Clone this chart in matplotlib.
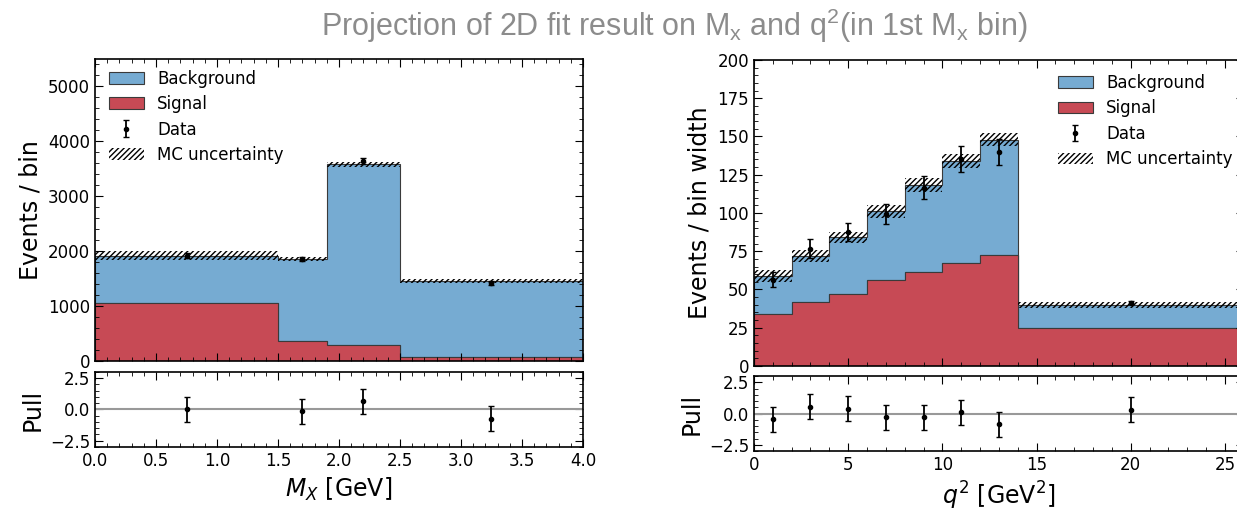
import matplotlib

matplotlib.use("Agg")

import numpy as np
import matplotlib.pyplot as plt
from matplotlib.patches import Patch

# M_X projection
mx_edges = [0.0, 1.5, 1.9, 2.5, 4.0]
mx_centers = [0.75, 1.7, 2.2, 3.25]
mx_signal = [1060, 370, 290, 70]
mx_total = [1915, 1865, 3580, 1460]
mx_mc_unc = [80, 35, 50, 40]
mx_data = [1920, 1855, 3640, 1420]
mx_data_err = [44, 43, 60, 38]
mx_pull = [0.0, -0.15, 0.65, -0.75]

# q2 projection (in 1st M_X bin), events / bin width
q2_edges = [0, 2, 4, 6, 8, 10, 12, 14, 26]
q2_centers = [1, 3, 5, 7, 9, 11, 13, 20]
q2_signal = [34, 42, 47, 56.5, 61.5, 67.5, 72.7, 24.5]
q2_total = [59, 72, 84, 101, 118.5, 134, 148, 39.8]
q2_mc_unc = [4, 4, 3.6, 4, 4.5, 4.3, 4.3, 1.8]
q2_data = [56.5, 76.7, 87.4, 99.5, 116.5, 135, 140, 41.2]
q2_data_err = [5, 6, 6, 6.5, 7.5, 8.5, 8.5, 1.0]
q2_pull = [-0.45, 0.55, 0.4, -0.3, -0.3, 0.1, -0.85, 0.3]

BLUE = "#76abd2"
RED = "#c74a55"
EDGE = "#3a3a3a"

plt.rcParams["hatch.linewidth"] = 1.0


def style_axes(ax):
    ax.minorticks_on()
    ax.tick_params(which="both", direction="in", top=True, right=True, labelsize=12)
    ax.tick_params(which="major", length=6)
    ax.tick_params(which="minor", length=3)
    for s in ax.spines.values():
        s.set_linewidth(1.2)


def draw_stack(ax, edges, signal, total, unc, centers, data, data_err):
    signal = np.array(signal)
    total = np.array(total)
    unc = np.array(unc)
    ax.stairs(total, edges, baseline=signal, fill=True,
              facecolor=BLUE, edgecolor=EDGE, linewidth=0.8)
    ax.stairs(signal, edges, baseline=0, fill=True,
              facecolor=RED, edgecolor=EDGE, linewidth=0.8)
    ax.stairs(total + unc, edges, baseline=total - unc, fill=True,
              facecolor="none", edgecolor="black", linewidth=0, hatch="//////")
    eb = ax.errorbar(centers, data, yerr=data_err, fmt="o", color="black",
                     markersize=3, capsize=2, elinewidth=1.3)
    handles = [Patch(facecolor=BLUE, edgecolor=EDGE, linewidth=0.8),
               Patch(facecolor=RED, edgecolor=EDGE, linewidth=0.8),
               eb,
               Patch(facecolor="none", edgecolor="black", linewidth=0, hatch="//////")]
    return handles


def draw_pull(ax, centers, pull):
    ax.axhline(0, color="#999999", linewidth=1.5)
    ax.errorbar(centers, pull, yerr=1.0, fmt="o", color="black",
                markersize=3, capsize=2, elinewidth=1.3)
    ax.set_ylim(-3, 3)
    ax.set_yticks([-2.5, 0.0, 2.5])
    ax.set_ylabel("Pull", fontsize=17)


labels = ["Background", "Signal", "Data", "MC uncertainty"]

fig = plt.figure(figsize=(12.37, 5.12), dpi=100)

# left: M_X
ax1 = fig.add_axes([0.0768, 0.2949, 0.3945, 0.590])
ax1p = fig.add_axes([0.0768, 0.127, 0.3945, 0.1465])
h = draw_stack(ax1, mx_edges, mx_signal, mx_total, mx_mc_unc,
               mx_centers, mx_data, mx_data_err)
ax1.set_xlim(0, 4)
ax1.set_ylim(0, 5500)
ax1.set_xticklabels([])
ax1.set_ylabel("Events / bin", fontsize=17)
ax1.legend(h, labels, loc="upper left", bbox_to_anchor=(0.028, 0.965),
           frameon=False, fontsize=12, handlelength=2.1, borderpad=0,
           borderaxespad=0, labelspacing=0.45)
style_axes(ax1)
draw_pull(ax1p, mx_centers, mx_pull)
ax1p.set_xlim(0, 4)
ax1p.set_xlabel(r"$M_X$ [GeV]", fontsize=17)
style_axes(ax1p)

# right: q2 (axes run past the right edge, as in the reference)
ax2 = fig.add_axes([0.6095, 0.2852, 0.396, 0.5977])
ax2p = fig.add_axes([0.6095, 0.1191, 0.396, 0.1465])
h = draw_stack(ax2, q2_edges, q2_signal, q2_total, q2_mc_unc,
               q2_centers, q2_data, q2_data_err)
ax2.set_xlim(0, 26)
ax2.set_ylim(0, 200)
ax2.set_xticklabels([])
ax2.set_ylabel("Events / bin width", fontsize=17)
ax2.legend(h, labels, loc="upper left", bbox_to_anchor=(0.62, 0.955),
           frameon=False, fontsize=12, handlelength=2.1, borderpad=0,
           borderaxespad=0, labelspacing=0.45)
style_axes(ax2)
draw_pull(ax2p, q2_centers, q2_pull)
ax2p.set_xlim(0, 26)
ax2p.set_xlabel(r"$q^2$ [GeV$^2$]", fontsize=17)
style_axes(ax2p)

fig.text(0.545, 0.950,
         r"Projection of 2D fit result on M$_\mathregular{x}$ and q$^\mathregular{2}$(in 1st M$_\mathregular{x}$ bin)",
         ha="center", va="center", fontsize=22, color="#8c8c8c",
         family="Liberation Sans")

fig.savefig("out.png", dpi=100)
plt.close(fig)
